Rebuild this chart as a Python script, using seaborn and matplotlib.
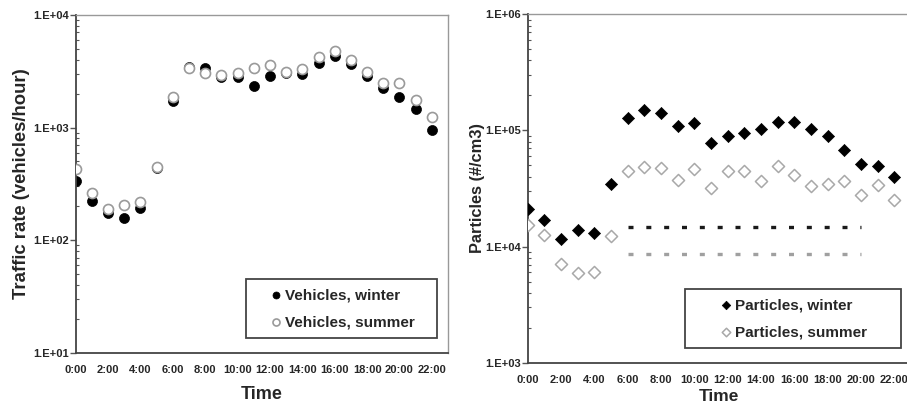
import numpy as np
import pandas as pd
import matplotlib
matplotlib.use("Agg")
import matplotlib.pyplot as plt
import seaborn as sns
from matplotlib.patches import Rectangle
from matplotlib.ticker import FixedLocator, FuncFormatter, LogLocator, NullFormatter

# hours of the day
hours = list(range(23))
hour_ticks = list(range(0, 23, 2))
hour_labels = [f"{h}:00" for h in hour_ticks]

# traffic rate (vehicles/hour)
vehicles_winter = [337, 221, 173, 156, 193, 440, 1734, 3475, 3400, 2793, 2793, 2323,
                   2871, 3074, 2991, 3747, 4325, 3670, 2871, 2261, 1869, 1462, 958]
vehicles_summer = [425, 260, 189, 207, 217, 450, 1881, 3400, 3074, 2931, 3074, 3400,
                   3570, 3138, 3337, 4206, 4786, 3957, 3138, 2489, 2489, 1757, 1241]

# particle concentration (#/cm3)
particles_winter = [21040, 16930, 11540, 13880, 13160, 34570, 127100, 150000, 140400,
                    109200, 116700, 77900, 89600, 95000, 102200, 118200, 118200,
                    102200, 89600, 67400, 51400, 49700, 40000]
particles_summer = [15310, 12480, 7110, 5910, 6080, 12240, 45000, 48700, 47800, 37650,
                    46560, 31720, 45000, 45000, 36650, 49700, 41600, 33210, 34570,
                    36650, 27790, 33880, 25180]

# reference levels (dashed lines from 6:00 to 20:00)
ref_span = [6, 20]
ref_winter = 14630
ref_summer = 8680

sns.set_theme(style="white")
plt.rcParams["font.family"] = ["Liberation Sans", "DejaVu Sans"]
plt.rcParams["font.weight"] = "bold"

fig = plt.figure(figsize=(9.07, 4.08), dpi=100)
ax1 = fig.add_axes([0.0835, 0.1355, 0.4105, 0.8277])
ax2 = fig.add_axes([0.5818, 0.111, 0.4226, 0.854])

veh = pd.DataFrame({"hour": hours, "winter": vehicles_winter, "summer": vehicles_summer})
par = pd.DataFrame({"hour": hours, "winter": particles_winter, "summer": particles_summer})

sns.scatterplot(data=veh, x="hour", y="summer", ax=ax1, marker="o", s=52,
                facecolor="white", edgecolor="#9a9a9a", linewidth=1.2,
                label="Vehicles, summer", zorder=3)
sns.scatterplot(data=veh, x="hour", y="winter", ax=ax1, marker="o", s=52,
                color="black", edgecolor="black", linewidth=0.5,
                label="Vehicles, winter", zorder=2)

sns.scatterplot(data=par, x="hour", y="winter", ax=ax2, marker="D", s=38,
                color="black", edgecolor="black", linewidth=0.5,
                label="Particles, winter", zorder=3)
sns.scatterplot(data=par, x="hour", y="summer", ax=ax2, marker="D", s=38,
                facecolor="white", edgecolor="#a8a8a8", linewidth=1.1,
                label="Particles, summer", zorder=3)

ax2.plot(ref_span, [ref_winter, ref_winter], color="#1a1a1a", lw=2.4,
         dashes=(1.5, 3.85), zorder=2)
ax2.plot(ref_span, [ref_summer, ref_summer], color="#a0a0a0", lw=2.4,
         dashes=(1.5, 3.85), zorder=2)


def exp_fmt(v, pos):
    return f"1.E+{int(round(np.log10(v))):02d}"


for ax, ylim, ylabel, ysize in [(ax1, (10, 1e4), "Traffic rate (vehicles/hour)", 13.3),
                                (ax2, (1e3, 1e6), "Particles (#/cm3)", 11.8)]:
    ax.set_yscale("log")
    ax.set_ylim(*ylim)
    ax.set_xlim(0, 23)
    ax.xaxis.set_major_locator(FixedLocator(hour_ticks))
    ax.set_xticklabels(hour_labels)
    ax.yaxis.set_major_formatter(FuncFormatter(exp_fmt))
    ax.yaxis.set_minor_locator(LogLocator(base=10, subs=np.arange(2, 10)))
    ax.yaxis.set_minor_formatter(NullFormatter())
    ax.tick_params(axis="x", which="major", direction="in", length=4, width=1,
                   color="#555555", labelsize=8, pad=9)
    ax.tick_params(axis="y", which="major", direction="out", length=4, width=1,
                   color="#555555", labelsize=8, pad=1, left=True)
    ax.tick_params(axis="y", which="minor", direction="in", length=2.5, width=0.8,
                   color="#555555", left=True)
    for lab in ax.get_xticklabels() + ax.get_yticklabels():
        lab.set_fontweight("bold")
    ax.set_xlabel("Time", fontsize=13, fontweight="bold", labelpad=6)
    ax.set_ylabel(ylabel, fontsize=ysize, fontweight="bold", labelpad=2)
    ax.grid(False)
    for side in ["left", "bottom"]:
        ax.spines[side].set_color("#444444")
        ax.spines[side].set_linewidth(1.3)
    for side in ["top", "right"]:
        ax.spines[side].set_color("#999999")
        ax.spines[side].set_linewidth(1.0)

ax1.xaxis.labelpad = 8
ax2.xaxis.labelpad = 3
ax2.xaxis.label.set_fontsize(12.5)
ax2.yaxis.labelpad = 0

# legends in the order winter, summer, framed by a box drawn in axes coords
for ax, order, box in [(ax1, [1, 0], (0.4574, 0.0426, 0.9713, 0.2174)),
                       (ax2, [0, 1], (0.4104, 0.0413, 0.9731, 0.2107))]:
    handles, labels = ax.get_legend_handles_labels()
    x0, y0, x1, y1 = box
    ax.add_patch(Rectangle((x0, y0), x1 - x0, y1 - y0, transform=ax.transAxes,
                           facecolor="white", edgecolor="#444444", lw=1.3, zorder=4))
    leg = ax.legend([handles[i] for i in order], [labels[i] for i in order],
                    loc="center", bbox_to_anchor=((x0 + x1) / 2, (y0 + y1) / 2),
                    frameon=False, fontsize=11, handletextpad=0.05,
                    handlelength=1.0, labelspacing=0.85, borderpad=0,
                    borderaxespad=0, markerscale=0.7)
    leg.set_zorder(5)
    for t in leg.get_texts():
        t.set_fontweight("bold")

fig.savefig("out.png", dpi=100)
